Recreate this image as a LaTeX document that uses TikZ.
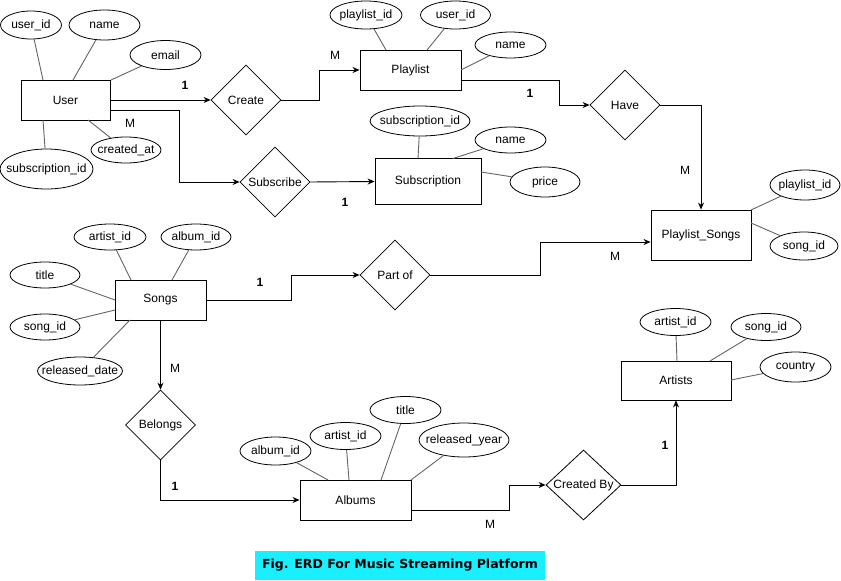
\documentclass[tikz,border=0pt]{standalone}
\usepackage{fontspec}
\setmainfont{Liberation Sans}
\newfontfamily\capfont{DejaVu Sans}
\usetikzlibrary{shapes.geometric,arrows.meta,calc}
\definecolor{attrline}{RGB}{100,100,100}
\definecolor{capcyan}{RGB}{24,240,255}
\tikzset{
  every node/.style={font=\fontsize{12}{14}\selectfont, inner sep=0pt},
  entity/.style={draw, rectangle, line width=0.9pt},
  attr/.style={draw, ellipse, line width=0.8pt, label={center:#1}},
  rel/.style={draw, diamond, aspect=1, minimum width=70pt, minimum height=70pt, line width=0.8pt, label={center:#1}},
  conn/.style={line width=0.9pt, -{Stealth[length=7pt,width=6pt]}},
  aline/.style={draw=attrline, line width=0.9pt},
  card/.style={font=\fontsize{12}{14}\selectfont},
  cardb/.style={font=\fontsize{12}{14}\selectfont\bfseries},
}
\begin{document}
\begin{tikzpicture}[x=1pt,y=-1pt]
\useasboundingbox (0,0) rectangle (841,581);
% entities
\node[entity, minimum width=89pt, minimum height=40pt] (user) at (65.5,100) {User};
\node[entity, minimum width=101pt, minimum height=40pt] (playlist) at (410.5,70) {Playlist};
\node[entity, minimum width=106pt, minimum height=46pt] (subscription) at (428,181.5) {Subscription};
\node[entity, minimum width=100pt, minimum height=50pt] (ps) at (701,235) {Playlist\_Songs};
\node[entity, minimum width=91pt, minimum height=40pt] (songs) at (160.5,300) {Songs};
\node[entity, minimum width=111pt, minimum height=40pt] (albums) at (355.5,500) {Albums};
\node[entity, minimum width=110pt, minimum height=39pt] (artists) at (676,380.5) {Artists};
% relationships
\node[rel=Create] (create) at (246,100) {};
\node[rel=Have] (have) at (625,105) {};
\node[rel=Subscribe] (subscribe) at (275,182) {};
\node[rel=Part of] (partof) at (395,275) {};
\node[rel=Belongs] (belongs) at (160.5,425) {};
\node[rel=Created By, minimum width=75pt] (createdby) at (583.5,485) {};
% user attributes
\node[attr=user\_id, minimum width=61pt, minimum height=28pt] (uid) at (31,25) {};
\node[attr=name, minimum width=71pt, minimum height=30pt] (uname) at (104.5,25) {};
\node[attr=email, minimum width=71pt, minimum height=29pt] (uemail) at (165.5,55) {};
\node[attr=subscription\_id, minimum width=93pt, minimum height=40pt] (usubid) at (46.5,169) {};
\node[attr=created\_at, minimum width=70pt, minimum height=26pt] (ucreated) at (126,150) {};
\draw[aline] (uid) -- (43,80);
\draw[aline] (uname) -- (73,80);
\draw[aline] (uemail) -- (111,80);
\draw[aline] (usubid) -- (43,120);
\draw[aline] (ucreated) -- (88,120);
% playlist attributes
\node[attr=playlist\_id, minimum width=72pt, minimum height=28pt] (pid) at (366,15) {};
\node[attr=user\_id, minimum width=70pt, minimum height=28pt] (puid) at (455.5,15) {};
\node[attr=name, minimum width=71pt, minimum height=26pt] (pname) at (510.5,45) {};
\draw[aline] (pid) -- (386,50);
\draw[aline] (puid) -- (427,50);
\draw[aline] (pname) -- (461,70);
% subscription attributes
\node[attr=subscription\_id, minimum width=100pt, minimum height=30pt] (ssid) at (420,121) {};
\node[attr=name, minimum width=71pt, minimum height=26pt] (sname) at (510.5,140) {};
\node[attr=price, minimum width=70pt, minimum height=30pt] (sprice) at (545,182) {};
\draw[aline] (ssid) -- (418,158.5);
\draw[aline] (sname) -- (453,158.5);
\draw[aline] (sprice) -- (481,172);
% playlist_songs attributes
\node[attr=playlist\_id, minimum width=70pt, minimum height=30pt] (pspid) at (805,185) {};
\node[attr=song\_id, minimum width=68pt, minimum height=28pt] (pssid) at (804,246) {};
\draw[aline] (pspid) -- (751,210);
\draw[aline] (pssid) -- (751,223);
% songs attributes
\node[attr=artist\_id, minimum width=72pt, minimum height=26pt] (sgart) at (110,237) {};
\node[attr=album\_id, minimum width=70pt, minimum height=26pt] (sgalb) at (196,237) {};
\node[attr=title, minimum width=70pt, minimum height=26pt] (sgtitle) at (45,275) {};
\node[attr=song\_id, minimum width=70pt, minimum height=26pt] (sgid) at (45,327) {};
\node[attr=released\_date, minimum width=85pt, minimum height=28pt] (sgrel) at (80,371) {};
\draw[aline] (sgart) -- (131,280);
\draw[aline] (sgalb) -- (172,280);
\draw[aline] (sgtitle) -- (115,300);
\draw[aline] (sgid) -- (115,310);
\draw[aline] (sgrel) -- (130,320);
% albums attributes
\node[attr=album\_id, minimum width=71pt, minimum height=28pt] (alid) at (275.5,451) {};
\node[attr=artist\_id, minimum width=71pt, minimum height=27pt] (alart) at (345.5,436) {};
\node[attr=title, minimum width=71pt, minimum height=27pt] (altitle) at (405.5,410) {};
\node[attr=released\_year, minimum width=90pt, minimum height=34pt] (alyear) at (464,440) {};
\draw[aline] (alid) -- (328,480);
\draw[aline] (alart) -- (349,480);
\draw[aline] (altitle) -- (381,480);
\draw[aline] (alyear) -- (411,480);
% artists attributes
\node[attr=artist\_id, minimum width=71pt, minimum height=27pt] (arid) at (675.5,322) {};
\node[attr=song\_id, minimum width=70pt, minimum height=27pt] (arsong) at (766,327) {};
\node[attr=country, minimum width=71pt, minimum height=30pt] (arcountry) at (795.5,367) {};
\draw[aline] (arid) -- (677,361);
\draw[aline] (arsong) -- (710,361);
\draw[aline] (arcountry) -- (731,380);
% connectors
\draw[conn] (user.east) -- (create.west);
\draw[conn] (create.east) -- ++(38,0) |- (playlist.west);
\draw[conn] ([yshift=-10pt]playlist.east) -| ([xshift=-30pt]have.west) -- (have.west);
\draw[conn] (have.east) -| (ps.north);
\draw[conn] ([yshift=-10pt]user.east) -| ([xshift=-60pt]subscribe.west) -- (subscribe.west);
\draw[conn] (subscribe.east) -- (subscription.west);
\draw[conn] (songs.east) -- ++(85,0) |- (partof.west);
\draw[conn] (partof.east) -- ++(110,0) |- ([yshift=-7pt]ps.west);
\draw[conn] (songs.south) -- (belongs.north);
\draw[conn] (belongs.south) |- (albums.west);
\draw[conn] ([yshift=-10pt]albums.east) -| ([xshift=-36pt]createdby.west) -- (createdby.west);
\draw[conn] (createdby.east) -| (artists.south);
% cardinalities
\node[cardb] (c1) at (185,85) {1};
\node[card] (c2) at (335,55) {M};
\node[cardb] (c3) at (530,93) {1};
\node[card] (c4) at (685,170) {M};
\node[card] (c5) at (130,123) {M};
\node[cardb] (c6) at (345,202) {1};
\node[cardb] (c7) at (260,282) {1};
\node[card] (c8) at (615,256) {M};
\node[card] (c9) at (175,368) {M};
\node[cardb] (c10) at (175,486) {1};
\node[card] (c11) at (490,524) {M};
\node[cardb] (c12) at (665,445) {1};
% caption
\node[fill=capcyan, minimum width=290pt, minimum height=29pt, font=\capfont\fontsize{12.5}{14}\selectfont\bfseries] (cap) at (400,565) {Fig. ERD For Music Streaming Platform};
\end{tikzpicture}
\end{document}
